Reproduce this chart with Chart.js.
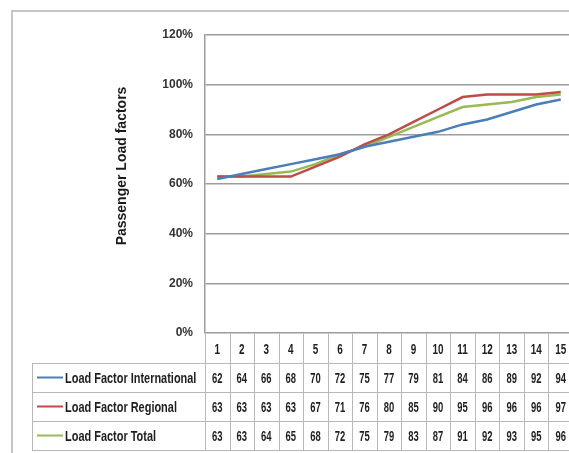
<!DOCTYPE html>
<html>
<head>
<meta charset="utf-8">
<script src="https://cdn.jsdelivr.net/npm/chart.js@4.4.1/dist/chart.umd.min.js"></script>
<style>
  html, body { margin: 0; padding: 0; background: #ffffff; overflow: hidden; width: 569px; height: 453px; }
  #wrap { position: absolute; left: 0; top: 0; width: 580px; height: 453px; }
</style>
</head>
<body>
<div id="wrap"><canvas id="c" width="580" height="453"></canvas></div>
<script>
// Periods shown along the bottom
const categories = ['1','2','3','4','5','6','7','8','9','10','11','12','13','14','15'];

// Passenger load factors (%)
const loadInternational = [62,64,66,68,70,72,75,77,79,81,84,86,89,92,94];
const loadRegional      = [63,63,63,63,67,71,76,80,85,90,95,96,96,96,97];
const loadTotal         = [63,63,64,65,68,72,75,79,83,87,91,92,93,95,96];

const seriesNames = ['Load Factor International', 'Load Factor Regional', 'Load Factor Total'];
const seriesColors = ['#4a7ebb', '#be4b48', '#98b954'];

// Value axis
const yMin = 0, yMax = 120, yStep = 20;
const yTitle = 'Passenger Load factors';

const baseFont = '"Liberation Sans", Arial, sans-serif';
const gridColor = '#9c9c9c';
const tableLine = '#b8b8b8';

// condensed text: regular face squeezed horizontally
function narrowText(ctx, text, x, y, sx) {
  ctx.save();
  ctx.translate(x, y);
  ctx.scale(sx, 1);
  ctx.fillText(text, 0, 0);
  ctx.restore();
}

// Outer frame of the chart object
const framePlugin = {
  id: 'frame',
  beforeDraw(chart) {
    const ctx = chart.ctx;
    ctx.save();
    ctx.strokeStyle = '#c6c6c6';
    ctx.lineWidth = 2;
    ctx.beginPath();
    ctx.moveTo(12, 453);
    ctx.lineTo(12, 11);
    ctx.lineTo(chart.width, 11);
    ctx.stroke();
    ctx.restore();
  }
};

// Rotated value-axis title
const axisTitlePlugin = {
  id: 'axisTitle',
  afterDraw(chart) {
    const ctx = chart.ctx;
    ctx.save();
    ctx.translate(122, 166);
    ctx.rotate(-Math.PI / 2);
    ctx.font = 'bold 14px ' + baseFont;
    ctx.fillStyle = '#1a1a1a';
    ctx.textAlign = 'center';
    ctx.textBaseline = 'middle';
    ctx.fillText(yTitle, 0, 0);
    ctx.restore();
  }
};

// Data table under the category axis
const dataTablePlugin = {
  id: 'dataTable',
  afterDraw(chart) {
    const ctx = chart.ctx;
    const xs = chart.scales.x;
    const area = chart.chartArea;
    const n = categories.length;
    const colW = (area.right - area.left) / n;
    const headTop = area.bottom;
    const headH = 30;
    const rowH = 29;
    const labelLeft = 32;
    const rows = chart.data.datasets;
    const tableBottom = headTop + headH + rowH * rows.length;

    ctx.save();
    ctx.strokeStyle = tableLine;
    ctx.lineWidth = 1;

    // column separators
    for (let i = 0; i <= n; i++) {
      const x = Math.round(area.left + i * colW) + 0.5;
      ctx.beginPath();
      ctx.moveTo(x, headTop);
      ctx.lineTo(x, tableBottom);
      ctx.stroke();
    }
    // row separators
    for (let r = 0; r <= rows.length; r++) {
      const y = Math.round(headTop + headH + r * rowH) + 0.5;
      ctx.beginPath();
      ctx.moveTo(labelLeft, y);
      ctx.lineTo(chart.width, y);
      ctx.stroke();
    }
    // left edge of the label column
    ctx.beginPath();
    ctx.moveTo(labelLeft + 0.5, headTop + headH);
    ctx.lineTo(labelLeft + 0.5, tableBottom);
    ctx.stroke();

    ctx.fillStyle = '#1e1e1e';
    ctx.textAlign = 'center';
    ctx.textBaseline = 'middle';
    ctx.font = 'bold 15px ' + baseFont;

    // header: category labels
    categories.forEach((c, i) => {
      narrowText(ctx, c, xs.getPixelForValue(i), headTop + headH / 2 + 2, 0.66);
    });

    // series rows
    rows.forEach((ds, r) => {
      const cy = headTop + headH + r * rowH + rowH / 2 + 1;
      ds.data.forEach((v, i) => {
        narrowText(ctx, String(v), xs.getPixelForValue(i), cy, 0.63);
      });
      // legend key
      ctx.strokeStyle = ds.borderColor;
      ctx.lineWidth = 2;
      ctx.beginPath();
      ctx.moveTo(37, cy - 1);
      ctx.lineTo(63, cy - 1);
      ctx.stroke();
      ctx.textAlign = 'left';
      narrowText(ctx, ds.label, 65, cy, 0.73);
      ctx.textAlign = 'center';
    });
    ctx.restore();
  }
};

const datasets = [loadInternational, loadRegional, loadTotal].map((d, i) => ({
  label: seriesNames[i],
  data: d,
  borderColor: seriesColors[i],
  backgroundColor: seriesColors[i],
  borderWidth: 2.5,
  pointRadius: 0,
  tension: 0,
  fill: false
}));

new Chart(document.getElementById('c'), {
  type: 'line',
  data: { labels: categories, datasets },
  plugins: [framePlugin, axisTitlePlugin, dataTablePlugin],
  options: {
    responsive: false,
    animation: false,
    devicePixelRatio: 1,
    layout: { padding: { top: 35, bottom: 120, left: 0, right: 7 } },
    plugins: { legend: { display: false }, tooltip: { enabled: false } },
    scales: {
      x: {
        type: 'category',
        display: false,
        offset: true
      },
      y: {
        min: yMin,
        max: yMax,
        afterFit(scale) { scale.width = 205; },
        border: { display: true, color: gridColor, width: 1.5 },
        grid: { color: gridColor, lineWidth: 1.5, drawTicks: false },
        ticks: {
          stepSize: yStep,
          padding: 12,
          color: '#333333',
          font: { family: baseFont, size: 12, weight: 'bold' },
          callback: v => v + '%'
        }
      }
    }
  }
});
</script>
</body>
</html>
